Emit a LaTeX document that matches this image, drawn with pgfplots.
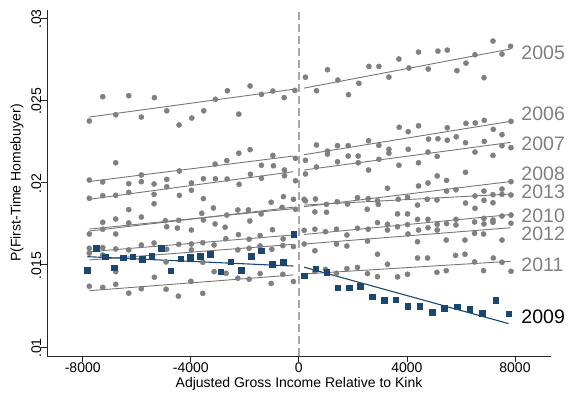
\documentclass[border=0pt]{standalone}
\usepackage{fontspec}
\setmainfont{Liberation Sans}
\usepackage{pgfplots}
\pgfplotsset{compat=1.18}
\usepackage{pgfplotstable}
\usetikzlibrary{calc}
\definecolor{stblue}{RGB}{26,71,111}
\definecolor{dotgray}{RGB}{128,128,128}
\definecolor{linegray}{RGB}{118,118,118}
\definecolor{dashgray}{RGB}{168,168,168}

% 2005 bin scatter
\pgfplotstableread{
x y
-7756 0.02374
-7259 0.02522
-6778 0.02412
-6296 0.02528
-5830 0.02398
-5348 0.02516
-4889 0.02436
-4433 0.02350
-3963 0.02392
-3519 0.02436
-3089 0.02506
-2644 0.02558
-2222 0.02416
-1804 0.02587
-1385 0.02536
-963 0.02556
-544 0.02516
-148 0.02560
244 0.02640
652 0.02558
1059 0.02686
1444 0.02623
1837 0.02534
2222 0.02603
2593 0.02706
2963 0.02706
3333 0.02641
3704 0.02751
4074 0.02696
4430 0.02793
4789 0.02690
5148 0.02799
5493 0.02805
5852 0.02680
6185 0.02726
6519 0.02777
6852 0.02637
7185 0.02860
7519 0.02781
7837 0.02828
}\yrAA

% 2009 bin scatter
\pgfplotstableread{
x y
-7830 0.01468
-7507 0.01600
-7163 0.01549
-6830 0.01482
-6496 0.01543
-6148 0.01550
-5804 0.01533
-5452 0.01551
-5100 0.01601
-4741 0.01463
-4378 0.01536
-4015 0.01545
-3644 0.01551
-3274 0.01564
-2889 0.01458
-2519 0.01519
-2137 0.01468
-1767 0.01553
-1385 0.01585
-978 0.01505
-581 0.01515
-185 0.01685
196 0.01433
622 0.01475
1037 0.01455
1444 0.01360
1863 0.01360
2278 0.01371
2707 0.01306
3148 0.01283
3578 0.01287
4022 0.01248
4467 0.01248
4930 0.01212
5389 0.01237
5852 0.01245
6326 0.01228
6789 0.01204
7281 0.01286
7763 0.01202
}\yrNine

% 2006-2008, 2010-2013 bin scatters (all drawn alike)
\pgfplotstableread{
x y
-6778 0.02120
-7756 0.02015
-7259 0.02003
-6296 0.01993
-5830 0.02046
-5830 0.02005
-5359 0.01991
-4889 0.02019
-4422 0.02070
-3978 0.01997
-7756 0.01904
-7259 0.01920
-6778 0.01922
-6296 0.01940
-5359 0.01928
-4889 0.01974
-4422 0.01922
-3978 0.01953
-6296 0.01835
-5359 0.01871
-7259 0.01758
-6778 0.01778
-6296 0.01754
-5830 0.01790
-4941 0.01768
-4444 0.01770
-7756 0.01687
-7259 0.01716
-6778 0.01687
-4889 0.01731
-4496 0.01723
-3978 0.01711
-7756 0.01600
-7259 0.01604
-6778 0.01596
-6296 0.01590
-5830 0.01620
-5359 0.01632
-4889 0.01594
-4444 0.01624
-3978 0.01626
-3978 0.01590
-7756 0.01570
-7259 0.01559
-6778 0.01458
-5348 0.01424
-4915 0.01517
-7756 0.01369
-7259 0.01362
-6778 0.01381
-6296 0.01327
-5830 0.01354
-4915 0.01351
-4459 0.01309
-3996 0.01399
-3556 0.01326
-3137 0.01458
-2693 0.01448
-2259 0.01418
-1841 0.01412
-1433 0.01446
-1026 0.01386
-593 0.01442
-200 0.01398
-3556 0.01515
-3533 0.02023
-3100 0.02112
-3089 0.02023
-2667 0.02133
-2656 0.02021
-2222 0.02178
-2211 0.01989
-1804 0.02200
-1793 0.02050
-1385 0.02105
-1385 0.02026
-963 0.02165
-941 0.02102
-533 0.02076
-533 0.02041
-126 0.02147
-126 0.02011
-3533 0.01902
-3163 0.01845
-3593 0.01813
-3533 0.01772
-2667 0.01802
-2259 0.01833
-1867 0.01833
-1815 0.01766
-1396 0.01809
-1026 0.01880
-570 0.01914
-619 0.01849
-200 0.01898
-126 0.01837
-3100 0.01748
-2730 0.01728
-978 0.01713
-2237 0.01683
-1841 0.01655
-1433 0.01677
-581 0.01657
-3556 0.01634
-3137 0.01620
-2704 0.01658
-2259 0.01590
-1841 0.01600
-1433 0.01614
-1000 0.01594
-593 0.01616
-200 0.01610
3715 0.02336
4048 0.02309
652 0.02228
1059 0.02191
1059 0.02173
1430 0.02224
1826 0.02224
2578 0.02254
2963 0.02226
3333 0.02202
3333 0.02178
4048 0.02202
244 0.02135
652 0.02094
1430 0.02126
1826 0.02161
2196 0.02161
2196 0.02120
2578 0.02076
2963 0.02141
3704 0.02105
244 0.02052
3281 0.01965
196 0.01898
244 0.01889
615 0.01900
593 0.01821
1022 0.01867
1022 0.01819
1419 0.01883
1800 0.01869
2170 0.01908
2567 0.01902
2530 0.01837
2911 0.01889
2937 0.01867
3678 0.01898
3652 0.01809
4022 0.01910
4022 0.01809
196 0.01709
593 0.01716
985 0.01701
1393 0.01716
1778 0.01681
2170 0.01722
2567 0.01716
2911 0.01756
3281 0.01746
3281 0.01711
3652 0.01731
4022 0.01744
4430 0.02345
5493 0.02333
6185 0.02360
6530 0.02362
6863 0.02378
7196 0.02323
7519 0.02291
7852 0.02372
4800 0.02264
5148 0.02266
5493 0.02257
5826 0.02278
6170 0.02242
6863 0.02250
7519 0.02224
7852 0.02212
4778 0.02185
4430 0.02120
5122 0.02159
6519 0.02185
7185 0.02165
6170 0.02062
4430 0.01979
4778 0.01997
5122 0.02040
5467 0.02013
4393 0.01863
4752 0.01898
5111 0.01894
5467 0.01948
5815 0.01956
6170 0.01875
6519 0.01918
6519 0.01843
6852 0.01948
6852 0.01892
7185 0.01926
7185 0.01877
7519 0.01960
7519 0.01928
7852 0.02005
7852 0.01924
4778 0.01776
5122 0.01746
5467 0.01750
5815 0.01776
5815 0.01742
6504 0.01760
6852 0.01782
7185 0.01772
7185 0.01758
7519 0.01796
7852 0.01802
7852 0.01752
4430 0.01711
4778 0.01725
5122 0.01711
6852 0.01748
4393 0.01776
6504 0.01691
4037 0.01687
196 0.01626
593 0.01585
1393 0.01626
1778 0.01614
2541 0.01644
2911 0.01564
3281 0.01503
4393 0.01640
4393 0.01541
4763 0.01541
5456 0.01650
5800 0.01557
6148 0.01564
6148 0.01650
6837 0.01687
7196 0.01541
7519 0.01650
7519 0.01515
6504 0.01517
593 0.01458
985 0.01472
1393 0.01448
1778 0.01476
2170 0.01484
2541 0.01446
2911 0.01427
3652 0.01426
4022 0.01442
5111 0.01454
5456 0.01464
6837 0.01464
7852 0.01460
}\yrOthers

\begin{document}
\begin{tikzpicture}[font=\fontsize{14}{16}\selectfont]
\begin{axis}[
  scale only axis,
  width=504pt, height=346pt,
  xmin=-9322, xmax=9333,
  ymin=0.00945, ymax=0.03049,
  axis lines=left,
  axis line style={-, black!85, line width=0.8pt},
  tick align=outside,
  major tick length=5.5pt,
  tick style={black!85, line width=0.8pt},
  xtick={-8000,-4000,0,4000,8000},
  xticklabels={-8000,-4000,0,4000,8000},
  ytick={0.01,0.015,0.02,0.025,0.03},
  yticklabels={.01,.015,.02,.025,.03},
  xticklabel style={anchor=north, inner sep=0pt, yshift=-1pt},
  yticklabel style={rotate=90, anchor=south, inner sep=0pt, xshift=-1pt},
  scaled ticks=false,
  xlabel={Adjusted Gross Income Relative to Kink},
  ylabel={P(First-Time Homebuyer)},
  every axis x label/.style={at={(axis description cs:0.5,-0.081)}, anchor=center},
  every axis y label/.style={at={(axis description cs:-0.0595,0.5)}, rotate=90, anchor=center},
  clip=false,
]
\coordinate (sw) at (rel axis cs:0,0);
\coordinate (ne) at (rel axis cs:1,1);
% dashed kink line
\addplot[dashgray, line width=1.5pt, dash pattern=on 8pt off 4pt] coordinates {(0,0.00945) (0,0.03049)};
% gray scatter
\addplot[only marks, mark=*, mark size=2.6pt, color=dotgray, mark options={draw=dotgray, fill=dotgray}] table[x=x,y=y] {\yrOthers};
\addplot[only marks, mark=*, mark size=2.6pt, color=dotgray, mark options={draw=dotgray, fill=dotgray}] table[x=x,y=y] {\yrAA};
% fitted lines, gray years
\addplot[linegray, line width=0.9pt] coordinates {(-7756,0.02398) (-200,0.02567)};
\addplot[linegray, line width=0.9pt] coordinates {(196,0.02574) (7837,0.02812)};
\addplot[linegray, line width=0.9pt] coordinates {(-7756,0.02006) (-200,0.02161)};
\addplot[linegray, line width=0.9pt] coordinates {(196,0.02169) (7837,0.02372)};
\addplot[linegray, line width=0.9pt] coordinates {(-7756,0.01898) (-200,0.02066)};
\addplot[linegray, line width=0.9pt] coordinates {(196,0.02076) (7837,0.02244)};
\addplot[linegray, line width=0.9pt] coordinates {(-7756,0.01705) (-200,0.01850)};
\addplot[linegray, line width=0.9pt] coordinates {(196,0.01853) (7837,0.02006)};
\addplot[linegray, line width=0.9pt] coordinates {(-7756,0.01717) (-200,0.01841)};
\addplot[linegray, line width=0.9pt] coordinates {(196,0.01863) (7837,0.01930)};
\addplot[linegray, line width=0.9pt] coordinates {(-7756,0.01579) (-200,0.01681)};
\addplot[linegray, line width=0.9pt] coordinates {(196,0.01684) (7837,0.01805)};
\addplot[linegray, line width=0.9pt] coordinates {(-7756,0.01529) (-200,0.01624)};
\addplot[linegray, line width=0.9pt] coordinates {(196,0.01626) (7837,0.01725)};
\addplot[linegray, line width=0.9pt] coordinates {(-7756,0.01342) (-200,0.01438)};
\addplot[linegray, line width=0.9pt] coordinates {(196,0.01444) (7837,0.01521)};
% 2009
\addplot[only marks, mark=square*, mark size=2.8pt, color=stblue, mark options={draw=stblue, fill=stblue}] table[x=x,y=y] {\yrNine};
\addplot[stblue, line width=1.1pt] coordinates {(-7830,0.01549) (-200,0.01492)};
\addplot[stblue, line width=1.1pt] coordinates {(196,0.01485) (7763,0.01142)};
% year labels
\begin{scope}[every node/.style={anchor=west, inner sep=0pt, font=\fontsize{19.5}{22}\selectfont, text=dotgray}]
\node at (axis cs:8233,0.02790) {2005};
\node at (axis cs:8233,0.02416) {2006};
\node at (axis cs:8233,0.02238) {2007};
\node at (axis cs:8233,0.02054) {2008};
\node at (axis cs:8233,0.01942) {2013};
\node at (axis cs:8233,0.01799) {2010};
\node at (axis cs:8233,0.01687) {2012};
\node at (axis cs:8233,0.01497) {2011};
\node[text=black] at (axis cs:8233,0.01182) {2009};
\end{scope}
\end{axis}
\pgfresetboundingbox
\path[use as bounding box] ($(sw)+(-47pt,-38pt)$) rectangle ($(ne)+(17pt,10pt)$);
\end{tikzpicture}
\end{document}
